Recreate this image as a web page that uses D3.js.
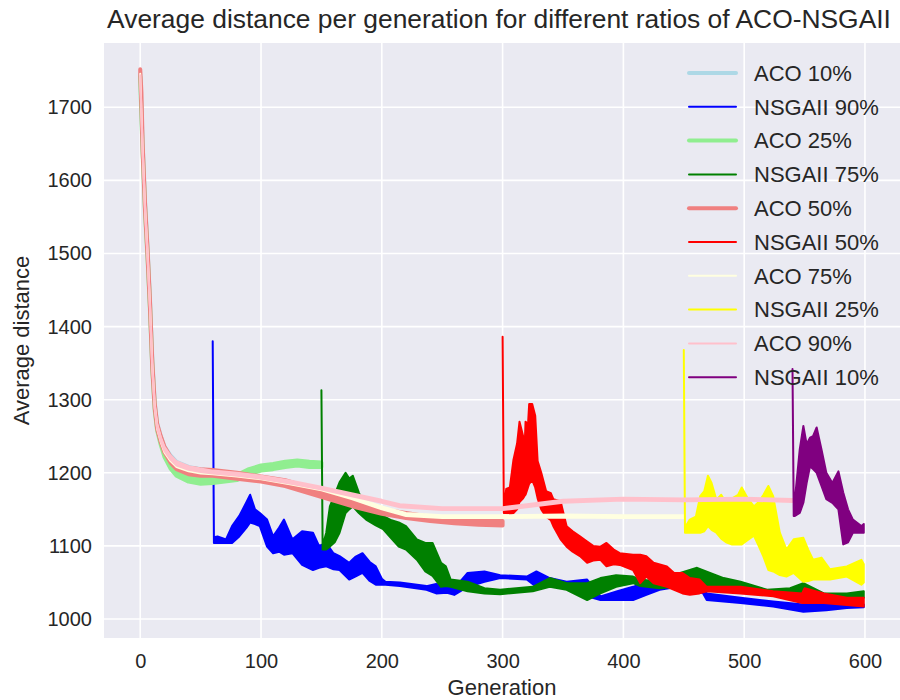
<!DOCTYPE html>
<html>
<head>
<meta charset="utf-8">
<script src="https://cdn.jsdelivr.net/npm/d3@7/dist/d3.min.js"></script>
<style>
body { margin: 0; background: #fff; }
text { font-family: "Liberation Sans", Arial, sans-serif; fill: #262626; }
</style>
</head>
<body>
<svg width="900" height="700"></svg>
<script>
// values: [generation, low edge, high edge] of each noisy band
var aco10 = [[0,1740,1745],[2,1640,1650],[4,1560,1570],[6,1500,1510],[8,1430,1440],[10,1345,1355],[12,1290,1296],
	[14,1262,1268],[17,1244,1250],[20,1230,1236],[25,1218,1224],[30,1210,1215],[40,1203,1208],[50,1200,1205],[60,1198,1202]];

var aco25 = [[0,1738,1742],[2,1635,1645],[4,1555,1565],[6,1495,1505],[8,1425,1435],[10,1340,1350],[12,1285,1292],
	[14,1258,1264],[17,1238,1245],[20,1222,1230],[25,1206,1214],[30,1196,1204],[40,1188,1195],[50,1185,1192],
	[60,1186,1193],[70,1188,1195],[80,1190,1197],[90,1198,1205],[100,1203,1210],[110,1205,1212],[120,1208,1215],
	[130,1210,1217],[140,1208,1215],[150,1208,1214]];

var aco50 = [[0,1745,1752],[1,1700,1720],[2,1640,1650],[4,1558,1568],[6,1498,1508],[8,1428,1438],[10,1343,1352],
	[12,1288,1295],[14,1260,1267],[17,1242,1250],[20,1228,1236],[25,1214,1222],[30,1205,1213],[40,1198,1207],
	[50,1196,1205],[60,1196,1204],[80,1192,1200],[100,1188,1195],[120,1182,1190],[140,1172,1180],[160,1162,1170],
	[180,1152,1160],[200,1144,1150],[220,1138,1145],[240,1134,1140],[260,1131,1137],[280,1129,1135],[300,1128,1134]];

var aco75 = [[0,1742,1746],[2,1638,1646],[4,1558,1566],[6,1498,1506],[8,1428,1436],[10,1342,1350],[12,1288,1294],
	[14,1260,1266],[17,1242,1248],[20,1228,1234],[25,1216,1222],[30,1208,1214],[40,1202,1207],[50,1199,1204],
	[60,1198,1202],[80,1195,1199],[100,1191,1195],[125,1184,1188],[150,1176,1180],[175,1164,1168],[200,1150,1154],
	[220,1141,1145],[250,1138,1142],[300,1138,1142],[350,1139,1143],[400,1138,1142],[450,1138,1142]];

var aco90 = [[0,1740,1744],[2,1636,1644],[4,1556,1564],[6,1496,1504],[8,1426,1434],[10,1340,1348],[12,1287,1293],
	[14,1261,1267],[17,1243,1249],[20,1230,1236],[25,1218,1224],[30,1210,1216],[40,1204,1209],[50,1201,1206],
	[60,1199,1203],[80,1196,1200],[100,1192,1196],[125,1185,1189],[150,1177,1181],[175,1168,1172],[200,1159,1163],
	[215,1153,1157],[250,1149,1153],[300,1149,1153],[320,1153,1157],[350,1159,1163],[400,1162,1166],[450,1161,1165],
	[500,1162,1166],[540,1160,1164]];

var nsga90 = [[60,1380,1380],[61,1104,1112],[64,1104,1113],[71,1104,1109],[76,1104,1127],[82,1113,1141],[88,1125,1160],
	[91,1132,1170],[95,1130,1150],[99,1127,1145],[105,1099,1136],[110,1090,1113],[115,1092,1125],[119,1088,1136],
	[126,1090,1109],[134,1074,1120],[143,1067,1118],[148,1070,1100],[154,1072,1104],[160,1068,1090],[165,1067,1086],
	[173,1054,1077],[178,1058,1085],[184,1063,1090],[190,1052,1078],[195,1047,1072],[200,1047,1055],[203,1047,1051],
	[215,1045,1050],[237,1040,1045],[245,1035,1048],[254,1036,1044],[260,1033,1042],[271,1044,1063],[285,1051,1065],
	[298,1056,1060],[320,1054,1058],[328,1044,1065],[339,1044,1056],[353,1044,1051],[370,1031,1054],[381,1026,1031],
	[395,1026,1038],[408,1026,1044],[419,1033,1051],[430,1040,1049],[449,1045,1054],[466,1035,1045],[469,1026,1035],
	[497,1022,1029],[524,1017,1024],[549,1010,1020],[568,1012,1020],[585,1015,1022],[599,1016,1020]];

var nsga75 = [[150,1313,1313],[151,1095,1100],[154,1095,1118],[157,1099,1154],[161,1105,1170],[165,1118,1187],
	[170,1145,1200],[173,1150,1192],[176,1154,1196],[181,1145,1173],[187,1136,1150],[195,1128,1145],[201,1123,1141],
	[208,1110,1135],[214,1099,1132],[220,1095,1127],[229,1081,1109],[236,1065,1104],[242,1059,1104],[249,1044,1077],
	[253,1045,1072],[257,1044,1054],[271,1038,1051],[285,1035,1042],[298,1034,1040],[325,1038,1044],[339,1044,1056],
	[353,1040,1049],[370,1026,1049],[381,1035,1056],[394,1044,1060],[408,1049,1058],[414,1045,1054],[430,1042,1051],
	[447,1045,1063],[461,1045,1070],[483,1040,1056],[497,1038,1051],[519,1035,1040],[538,1033,1042],[549,1036,1049],
	[566,1031,1035],[585,1029,1035],[599,1029,1038]];

var nsga50 = [[300,1386,1386],[301,1145,1150],[303,1145,1178],[306,1143,1180],[309,1145,1218],[312,1150,1240],
	[314,1160,1270],[317,1165,1250],[318,1168,1224],[319,1170,1270],[321,1180,1265],[322,1185,1294],[324.5,1190,1294],
	[327,1180,1278],[329,1165,1216],[332,1150,1200],[336,1140,1175],[340,1135,1172],[342,1127,1164],[348,1109,1161],
	[353,1099,1127],[358,1092,1120],[364,1086,1113],[370,1077,1106],[375,1080,1100],[381,1081,1099],[386,1072,1104],
	[392,1075,1095],[397,1074,1090],[408,1067,1088],[414,1049,1088],[419,1058,1086],[425,1049,1077],[436,1044,1072],
	[442,1040,1063],[449,1035,1063],[455,1033,1056],[463,1035,1054],[469,1038,1044],[497,1035,1044],[524,1031,1038],
	[548,1022,1035],[550,1022,1042],[566,1022,1035],[585,1019,1029],[599,1017,1029]];

var nsga25 = [[450,1368,1368],[451,1118,1125],[455,1118,1136],[460,1118,1140],[463.6,1118,1168],[467,1120,1175],
	[470,1127,1196],[473,1122,1186],[477,1118,1163],[481,1110,1170],[485,1105,1159],[490,1102,1165],[495,1102,1170],
	[498,1102,1180],[503,1108,1165],[508,1114,1154],[512,1100,1160],[516,1085,1170],[520,1067,1182],[524,1065,1168],
	[529.5,1060,1118],[535,1058,1095],[541,1063,1109],[549,1051,1111],[553,1052,1095],[557,1054,1081],[564,1054,1084],
	[571,1054,1068],[585,1058,1072],[597,1047,1081],[599,1050,1075]];

var nsga10 = [[540,1342,1342],[541,1141,1150],[542,1141,1164],[546,1145,1232],[549,1159,1264],[551.7,1186,1239],
	[554.5,1209,1248],[557,1205,1250],[560,1200,1262],[564,1182,1232],[568,1164,1200],[573,1159,1186],[578,1150,1202],
	[582,1102,1173],[586,1105,1150],[590,1118,1136],[597,1118,1127],[599,1118,1130]];

var seriesNames = ["ACO 10%", "NSGAII 90%", "ACO 25%", "NSGAII 75%", "ACO 50%", "NSGAII 50%", "ACO 75%", "NSGAII 25%", "ACO 90%", "NSGAII 10%"];
var seriesData = [aco10, nsga90, aco25, nsga75, aco50, nsga50, aco75, nsga25, aco90, nsga10];
var xTicks = [0, 100, 200, 300, 400, 500, 600];
var yTicks = [1000, 1100, 1200, 1300, 1400, 1500, 1600, 1700];

// styling
var colors = ["lightblue", "blue", "lightgreen", "green", "lightcoral", "red", "lightyellow", "yellow", "pink", "purple"];
var widths = [4, 2, 4, 2, 4, 2, 2, 2, 2, 2];

function drawChart(){
	var svg = d3.select("svg");
	var left = 104, right = 900, plotTop = 43, plotBottom = 638;

	var x = d3.scaleLinear().domain([-30, 629]).range([left, right]);
	var y = d3.scaleLinear().domain([974, 1788]).range([plotBottom, plotTop]);

	// background + grid
	svg.append("rect").attr("x", left).attr("y", plotTop)
		.attr("width", right - left).attr("height", plotBottom - plotTop).attr("fill", "#EAEAF2");

	svg.append("g").selectAll("line").data(xTicks).enter().append("line")
		.attr("x1", d => x(d)).attr("x2", d => x(d)).attr("y1", plotTop).attr("y2", plotBottom)
		.attr("stroke", "#fff").attr("stroke-width", 1.6);
	svg.append("g").selectAll("line").data(yTicks).enter().append("line")
		.attr("x1", left).attr("x2", right).attr("y1", d => y(d)).attr("y2", d => y(d))
		.attr("stroke", "#fff").attr("stroke-width", 1.6);

	// axes (labels only, seaborn style)
	var xAxis = svg.append("g").attr("transform", "translate(0," + plotBottom + ")")
		.call(d3.axisBottom(x).tickValues(xTicks).tickFormat(d3.format("d")).tickSize(0).tickPadding(12));
	var yAxis = svg.append("g").attr("transform", "translate(" + left + ",0)")
		.call(d3.axisLeft(y).tickValues(yTicks).tickFormat(d3.format("d")).tickSize(0).tickPadding(12));
	[xAxis, yAxis].forEach(function(a){
		a.select(".domain").remove();
		a.selectAll("text").attr("font-size", 20).attr("font-family", "Liberation Sans, Arial, sans-serif").attr("fill", "#262626");
	});
	xAxis.selectAll("text").attr("dy", "0.9em");

	// series
	var band = d3.area()
		.x(d => x(d[0]))
		.y0(d => y(d[1]))
		.y1(d => y(d[2]));

	seriesData.forEach(function(s, i){
		svg.append("path")
			.datum(s)
			.attr("d", band)
			.attr("fill", colors[i])
			.attr("stroke", colors[i])
			.attr("stroke-width", widths[i])
			.attr("stroke-linejoin", "round")
			.attr("stroke-linecap", "round");
	});

	// legend
	var legend = svg.append("g");
	seriesNames.forEach(function(name, i){
		var ly = 73 + i * 33.8;
		legend.append("line")
			.attr("x1", 689).attr("x2", 736).attr("y1", ly).attr("y2", ly)
			.attr("stroke", colors[i]).attr("stroke-width", widths[i]).attr("stroke-linecap", "round");
		legend.append("text")
			.attr("x", 754).attr("y", ly).attr("dy", "0.35em")
			.attr("font-size", 22).text(name);
	});

	// title and axis labels
	svg.append("text").attr("x", 499).attr("y", 28)
		.attr("text-anchor", "middle").attr("font-size", 26.4)
		.text("Average distance per generation for different ratios of ACO-NSGAII");
	svg.append("text").attr("x", (left + right) / 2).attr("y", 695)
		.attr("text-anchor", "middle").attr("font-size", 22).text("Generation");
	svg.append("text").attr("transform", "translate(29," + (plotTop + plotBottom) / 2 + ") rotate(-90)")
		.attr("text-anchor", "middle").attr("font-size", 22).text("Average distance");
}

drawChart();
</script>
</body>
</html>
